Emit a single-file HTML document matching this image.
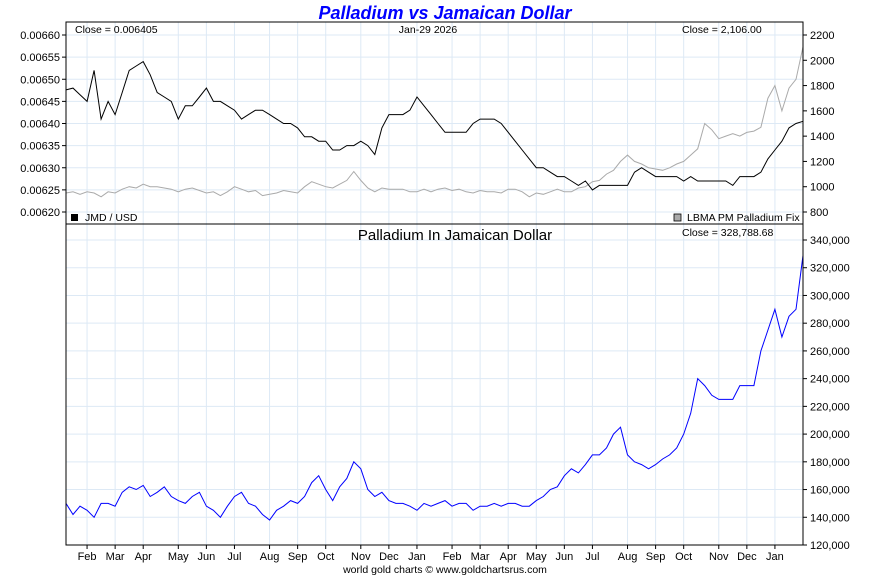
<!DOCTYPE html>
<html><head><meta charset="utf-8"><style>
body{margin:0;background:#fff;font-family:"Liberation Sans",sans-serif}
svg text{font-family:"Liberation Sans",sans-serif}
</style></head><body>
<svg id="c" width="890" height="575" xmlns="http://www.w3.org/2000/svg">
<text x="445" y="19" text-anchor="middle" font-size="18" font-weight="bold" font-style="italic" fill="#0000ff">Palladium vs Jamaican Dollar</text>
<g id="grid"></g>
<g id="marks"></g>
<rect x="66" y="22" width="737" height="202" fill="none" stroke="#000"/>
<rect x="66" y="224" width="737" height="321" fill="none" stroke="#000"/>
<g id="axes" font-size="11"></g>
<text x="75" y="33" font-size="10.5">Close = 0.006405</text>
<text x="428" y="33" font-size="10.5" text-anchor="middle">Jan-29  2026</text>
<text x="682" y="33" font-size="10.5">Close = 2,106.00</text>
<rect x="71" y="214" width="7" height="7" fill="#000"/>
<text x="85" y="221" font-size="10.5">JMD / USD</text>
<rect x="674" y="214" width="7" height="7" fill="#aaa" stroke="#000" stroke-width="0.8"/>
<text x="687" y="221" font-size="10.5">LBMA PM Palladium Fix</text>
<text x="455" y="240" font-size="15" text-anchor="middle">Palladium In Jamaican Dollar</text>
<text x="682" y="236" font-size="10.5">Close = 328,788.68</text>
<text x="445" y="573" font-size="10.5" text-anchor="middle">world gold charts © www.goldchartsrus.com</text>
</svg>
<script>
const months=["Feb","Mar","Apr","May","Jun","Jul","Aug","Sep","Oct","Nov","Dec","Jan","Feb","Mar","Apr","May","Jun","Jul","Aug","Sep","Oct","Nov","Dec","Jan"];
const monthIdx=[3,7,11,16,20,24,29,33,37,42,46,50,55,59,63,67,71,75,80,84,88,93,97,101];
const leftTicks=[0.00620,0.00625,0.00630,0.00635,0.00640,0.00645,0.00650,0.00655,0.00660];
const rightTicks=[800,1000,1200,1400,1600,1800,2000,2200];
const bottomTicks=[120000,140000,160000,180000,200000,220000,240000,260000,280000,300000,320000,340000];
const jmdUsd=[.006476,.00648,.006465,.00645,.00652,.00641,.00645,.00642,.00647,.00652,.00653,.00654,.00651,.00647,.00646,.00645,.00641,.00644,.00644,.00646,.00648,.00645,.00645,.00644,.00643,.00641,.00642,.00643,.00643,.00642,.00641,.0064,.0064,.00639,.00637,.00637,.00636,.00636,.00634,.00634,.00635,.00635,.00636,.00635,.00633,.00639,.00642,.00642,.00642,.00643,.00646,.00644,.00642,.0064,.00638,.00638,.00638,.00638,.0064,.00641,.00641,.00641,.0064,.00638,.00636,.00634,.00632,.0063,.0063,.00629,.00628,.00628,.00627,.00626,.00627,.00625,.00626,.00626,.00626,.00626,.00626,.00629,.0063,.00629,.00628,.00628,.00628,.00628,.00627,.00628,.00627,.00627,.00627,.00627,.00627,.00626,.00628,.00628,.00628,.00629,.00632,.00634,.00636,.00639,.0064,.006405];
const palladium=[950,960,940,960,950,920,960,950,980,1000,990,1020,1000,1000,990,980,960,980,990,970,950,960,930,960,1000,980,960,970,930,940,950,970,960,950,1000,1040,1020,1000,990,1020,1050,1120,1050,990,960,990,980,980,980,960,960,980,960,980,990,970,980,960,950,970,960,960,950,980,980,960,920,950,940,960,980,960,960,990,1000,1040,1050,1100,1130,1200,1250,1200,1180,1150,1140,1130,1150,1180,1200,1250,1300,1500,1450,1380,1400,1420,1400,1430,1440,1470,1700,1800,1600,1780,1850,2106];
const pdJmd=[150,142,148,145,140,150,150,148,158,162,160,163,155,158,162,155,152,150,155,158,148,145,140,148,155,158,150,148,142,138,145,148,152,150,155,165,170,160,152,162,168,180,175,160,155,158,152,150,150,148,145,150,148,150,152,148,150,150,145,148,148,150,148,150,150,148,148,152,155,160,162,170,175,172,178,185,185,190,200,205,185,180,178,175,178,182,185,190,200,215,240,235,228,225,225,225,235,235,235,260,275,290,270,285,290,328.79];
const NS="http://www.w3.org/2000/svg";
const N=jmdUsd.length;
const X=i=>66+i*(737/(N-1));
const yL=v=>35+(0.0066-v)/0.0004*177;
const yR=v=>35+(2200-v)/1400*177;
const yB=v=>240+(340000-v)/220000*305;
const grid=document.getElementById('grid'),marks=document.getElementById('marks'),axes=document.getElementById('axes');
function ln(p,x1,y1,x2,y2,c){const l=document.createElementNS(NS,'line');l.setAttribute('x1',x1);l.setAttribute('y1',y1);l.setAttribute('x2',x2);l.setAttribute('y2',y2);l.setAttribute('stroke',c);p.appendChild(l);return l;}
function tx(p,x,y,s,a){const t=document.createElementNS(NS,'text');t.setAttribute('x',x);t.setAttribute('y',y);t.setAttribute('text-anchor',a);t.textContent=s;p.appendChild(t);return t;}
monthIdx.forEach((mi,k)=>{const x=X(mi);
const g=ln(grid,x,22,x,545,'#dde9f5');


const t=tx(axes,x,560,months[k],'middle');


ln(axes,x,545,x,549,'#000');});
leftTicks.forEach(v=>{const y=yL(v);
const g=ln(grid,66,y,803,y,'#dde9f5');


ln(axes,62,y,66,y,'#000');
const t=tx(axes,60,y+4,v.toFixed(5),'end');

});
rightTicks.forEach(v=>{const y=yR(v);ln(axes,803,y,807,y,'#000');
const t=tx(axes,810,y+4,String(v),'start');

});
bottomTicks.forEach(v=>{const y=yB(v);
const g=ln(grid,66,y,803,y,'#dde9f5');


ln(axes,803,y,807,y,'#000');
const t=tx(axes,810,y+4,v.toLocaleString('en-US'),'start');

});
function path(vals,fx,c,name){const p=document.createElementNS(NS,'polyline');p.setAttribute('points',vals.map((v,i)=>X(i).toFixed(1)+','+fx(v).toFixed(1)).join(' '));p.setAttribute('fill','none');p.setAttribute('stroke',c);p.setAttribute('stroke-width','1');marks.appendChild(p);return p;}
const p1=path(palladium,yR,'#aaa');


const p2=path(jmdUsd,yL,'#000');


const p3=path(pdJmd,v=>yB(v*1000),'#0000ff');


</script>
</body></html>
